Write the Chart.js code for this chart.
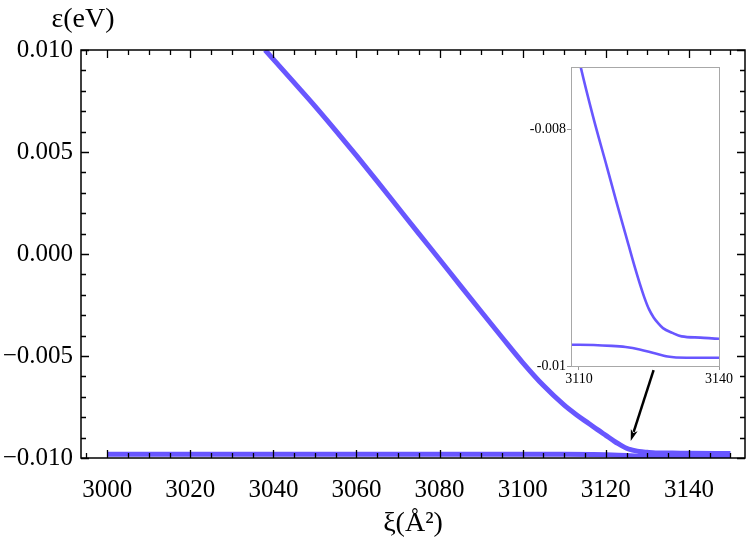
<!DOCTYPE html>
<html>
<head>
<meta charset="utf-8">
<script src="https://cdn.jsdelivr.net/npm/chart.js@4.4.1/dist/chart.umd.min.js"></script>
<style>
  body { margin: 0; background: #fff; }
  #wrap { position: relative; width: 746px; height: 546px; }
  #mainChart { position: absolute; left: 0; top: 0; }
  #insetChart { position: absolute; left: 480px; top: 50px; }
</style>
</head>
<body>
<div id="wrap">
  <canvas id="mainChart" width="746" height="546"></canvas>
  <canvas id="insetChart" width="266" height="340"></canvas>
</div>
<script>
'use strict';

// upper branch
let upperXi = [3038, 3045, 3050, 3055, 3060, 3065, 3070, 3075, 3080, 3085, 3090, 3095, 3100, 3105, 3110, 3113, 3116, 3118, 3120, 3122, 3123, 3124, 3125, 3126, 3127, 3128, 3130, 3132, 3136, 3140, 3150];
let upperEps = [0.0100, 0.00840, 0.00725, 0.00605, 0.00482, 0.00356, 0.00228, 0.00100, -0.00027, -0.00155, -0.00282, -0.00408, -0.00532, -0.00645, -0.00741, -0.00789, -0.00832, -0.00861, -0.00889, -0.00917, -0.00930, -0.00942, -0.00952, -0.00959, -0.00964, -0.00968, -0.00972, -0.00975, -0.00976, -0.00977, -0.00978];

// lower branch
let lowerXi = [3000, 3050, 3100, 3110, 3117, 3120, 3123, 3126, 3129, 3133, 3140, 3150];
let lowerEps = [-0.00982, -0.00982, -0.00982, -0.00982, -0.00983, -0.00984, -0.00986, -0.00989, -0.00992, -0.00993, -0.00993, -0.00993];

// axes
let xMajorTicks = [3000, 3020, 3040, 3060, 3080, 3100, 3120, 3140];
let yMajorTicks = [-0.010, -0.005, 0.000, 0.005, 0.010];
let insetXTicks = [3110, 3140];
let insetYTicks = [-0.01, -0.008];
let insetYLabels = ['-0.01', '-0.008'];

// arrow from inset to the avoided crossing (data units)
let arrowFrom = [3131.5, -0.00569];
let arrowTo = [3126, -0.00917];

let lineColor = 'rgb(104, 86, 255)';
let fontFamily = '"Liberation Serif", "Times New Roman", serif';

function toPoints(xs, ys) {
  let pts = [];
  for (let i = 0; i < xs.length; i++) {
    pts.push({ x: xs[i], y: ys[i] });
  }
  return pts;
}

function fmtMain(v) {
  let s = Math.abs(v).toFixed(3);
  return v < -1e-9 ? '\u2212' + s : s;
}

// frame with inward ticks, like the original plot
let framePlugin = {
  id: 'frame',
  afterDatasetsDraw(chart) {
    let ctx = chart.ctx;
    let a = chart.chartArea;
    let xs = chart.scales.x;
    let ys = chart.scales.y;
    ctx.save();
    ctx.strokeStyle = '#000';
    ctx.lineWidth = 1.5;
    ctx.strokeRect(a.left, a.top, a.right - a.left, a.bottom - a.top);
    ctx.lineWidth = 1.3;
    ctx.beginPath();
    for (let v = 2995; v <= 3150; v += 5) {
      let len = (v % 20 === 0) ? 8 : 5;
      let px = Math.round(xs.getPixelForValue(v)) + 0.5;
      ctx.moveTo(px, a.bottom); ctx.lineTo(px, a.bottom - len);
      ctx.moveTo(px, a.top); ctx.lineTo(px, a.top + len);
    }
    for (let i = -10; i <= 10; i++) {
      let len = (i % 5 === 0) ? 8 : 5;
      let py = Math.round(ys.getPixelForValue(i / 1000)) + 0.5;
      ctx.moveTo(a.left, py); ctx.lineTo(a.left + len, py);
      ctx.moveTo(a.right, py); ctx.lineTo(a.right - len, py);
    }
    ctx.stroke();

    // arrow
    let x1 = xs.getPixelForValue(arrowFrom[0]);
    let y1 = ys.getPixelForValue(arrowFrom[1]);
    let x2 = xs.getPixelForValue(arrowTo[0]);
    let y2 = ys.getPixelForValue(arrowTo[1]);
    let ang = Math.atan2(y2 - y1, x2 - x1);
    let head = 12;
    ctx.lineWidth = 2.5;
    ctx.beginPath();
    ctx.moveTo(x1, y1);
    ctx.lineTo(x2 - Math.cos(ang) * head * 0.8, y2 - Math.sin(ang) * head * 0.8);
    ctx.stroke();
    ctx.fillStyle = '#000';
    ctx.beginPath();
    ctx.moveTo(x2, y2);
    ctx.lineTo(x2 - head * Math.cos(ang - 0.3), y2 - head * Math.sin(ang - 0.3));
    ctx.lineTo(x2 - head * 0.7 * Math.cos(ang), y2 - head * 0.7 * Math.sin(ang));
    ctx.lineTo(x2 - head * Math.cos(ang + 0.3), y2 - head * Math.sin(ang + 0.3));
    ctx.closePath();
    ctx.fill();

    // y axis title sits above the axis
    ctx.font = '28px ' + fontFamily;
    ctx.textAlign = 'center';
    ctx.textBaseline = 'alphabetic';
    ctx.fillText('\u03b5(eV)', a.left + 2, 27);
    ctx.restore();
  }
};

new Chart(document.getElementById('mainChart'), {
  type: 'line',
  data: {
    datasets: [
      { data: toPoints(upperXi, upperEps), borderColor: lineColor, borderWidth: 5, pointRadius: 0, cubicInterpolationMode: 'monotone', fill: false },
      { data: toPoints(lowerXi, lowerEps), borderColor: lineColor, borderWidth: 5, pointRadius: 0, cubicInterpolationMode: 'monotone', fill: false }
    ]
  },
  options: {
    responsive: false,
    devicePixelRatio: 1,
    animation: false,
    layout: { padding: { top: 50, right: 1, left: 0, bottom: 0 } },
    plugins: { legend: { display: false }, tooltip: { enabled: false } },
    scales: {
      x: {
        type: 'linear',
        min: 2993.7,
        max: 3153.5,
        afterBuildTicks: (s) => { s.ticks = xMajorTicks.map(v => ({ value: v })); },
        afterFit: (s) => { s.height = 88; },
        grid: { display: false },
        border: { display: false },
        ticks: { color: '#000', font: { family: fontFamily, size: 25 }, padding: 9, maxRotation: 0, autoSkip: false, callback: (v) => String(v) },
        title: { display: true, text: '\u03be(\u00c5\u00b2)', color: '#000', font: { family: fontFamily, size: 28 }, padding: { top: 0, bottom: 6 } }
      },
      y: {
        type: 'linear',
        min: -0.01,
        max: 0.01,
        afterBuildTicks: (s) => { s.ticks = yMajorTicks.map(v => ({ value: v })); },
        afterFit: (s) => { s.width = 81; },
        grid: { display: false },
        border: { display: false },
        ticks: { color: '#000', font: { family: fontFamily, size: 25 }, padding: 0, autoSkip: false, callback: fmtMain }
      }
    }
  },
  plugins: [framePlugin]
});

// inset frame (grey box)
let insetFrame = {
  id: 'insetFrame',
  beforeDatasetsDraw(chart) {
    let ctx = chart.ctx;
    let a = chart.chartArea;
    ctx.save();
    ctx.fillStyle = '#fff';
    ctx.fillRect(a.left, a.top, a.right - a.left, a.bottom - a.top);
    ctx.restore();
  },
  afterDraw(chart) {
    let ctx = chart.ctx;
    let a = chart.chartArea;
    ctx.save();
    ctx.strokeStyle = '#a8a8a8';
    ctx.lineWidth = 1;
    ctx.strokeRect(Math.round(a.left) + 0.5, Math.round(a.top) + 0.5, Math.round(a.right - a.left), Math.round(a.bottom - a.top));
    ctx.restore();
  }
};

new Chart(document.getElementById('insetChart'), {
  type: 'line',
  data: {
    datasets: [
      { data: toPoints(upperXi, upperEps), borderColor: lineColor, borderWidth: 2.6, pointRadius: 0, cubicInterpolationMode: 'monotone', fill: false, clip: 0 },
      { data: toPoints(lowerXi, lowerEps), borderColor: lineColor, borderWidth: 2.6, pointRadius: 0, cubicInterpolationMode: 'monotone', fill: false, clip: 0 }
    ]
  },
  options: {
    responsive: false,
    devicePixelRatio: 1,
    animation: false,
    layout: { padding: { top: 17, right: 27, left: 0, bottom: 0 } },
    plugins: { legend: { display: false }, tooltip: { enabled: false } },
    scales: {
      x: {
        type: 'linear',
        min: 3108.3,
        max: 3140,
        afterBuildTicks: (s) => { s.ticks = insetXTicks.map(v => ({ value: v })); },
        afterFit: (s) => { s.height = 24; },
        grid: { drawOnChartArea: false, tickLength: 4, color: '#999' },
        border: { color: '#a8a8a8' },
        ticks: { color: '#000', font: { family: fontFamily, size: 14 }, padding: 1, maxRotation: 0, autoSkip: false, callback: (v) => String(v) }
      },
      y: {
        type: 'linear',
        min: -0.01,
        max: -0.007475,
        afterBuildTicks: (s) => { s.ticks = insetYTicks.map(v => ({ value: v })); },
        afterFit: (s) => { s.width = 91; },
        grid: { drawOnChartArea: false, tickLength: 4, color: '#999' },
        border: { color: '#a8a8a8' },
        ticks: { color: '#000', font: { family: fontFamily, size: 14 }, padding: 1, autoSkip: false,
          callback: (v, i) => insetYLabels[i] }
      }
    }
  },
  plugins: [insetFrame]
});
</script>
</body>
</html>
